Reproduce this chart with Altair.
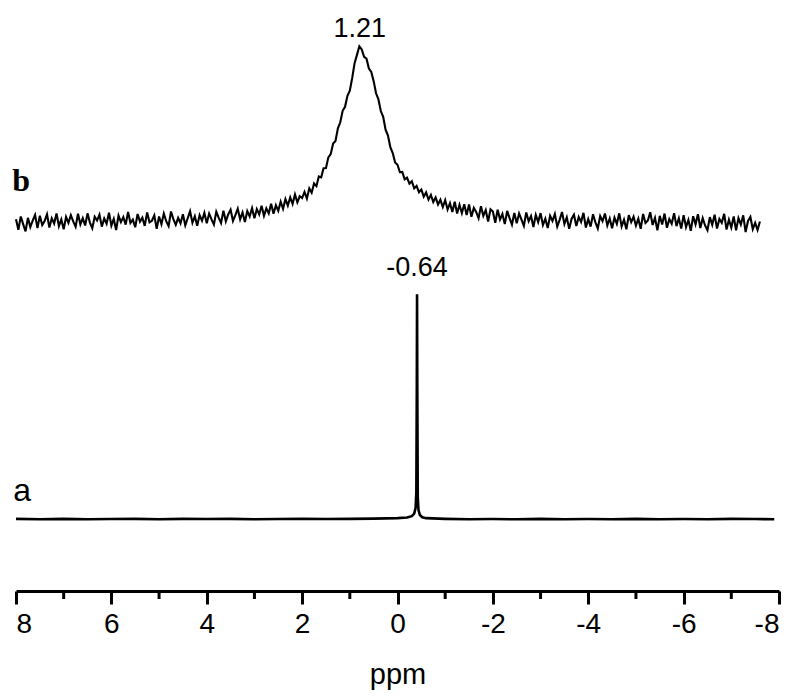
import altair as alt
import numpy as np
import pandas as pd

# ---- trace b : broad peak, sampled every 0.05 ppm from 8.00 ppm downward ----
B_START = 8.0
B_STEP = 0.05
B_INTENSITY = [
    0.4, -4.3, 1.6, -1.8, -5.0, 1.0, -3.1, -0.2, 2.3, -3.6,
    1.9, -2.2, -0.4, 2.6, -3.3, 0.8, -1.5, 2.9, -2.7, 0.3,
    -4.1, 1.4, -1.2, 2.2, -0.6, -3.0, 2.8, -1.9, 0.9, -2.4,
    3.0, -1.1, -3.6, 1.5, -0.2, 2.4, -2.9, 0.7, -1.6, 3.3,
    -2.5, 0.5, -4.4, 2.0, -0.9, 1.3, -2.0, 3.6, -1.3, 0.2,
    -3.2, 2.7, -0.7, 1.1, -2.6, 3.4, -1.0, -0.3, 2.1, -3.9,
    1.6, -1.8, 2.9, -0.5, -2.7, 3.8, 0.4, -2.1, 1.0, -1.4,
    2.6, -2.3, 0.8, 3.9, -1.2, 1.7, -2.5, 2.2, -0.3, 3.2,
    -1.4, 2.9, 0.3, -2.0, 3.7, 1.1, -1.3, 4.2, -0.6, 2.5,
    4.6, -0.4, 2.2, 5.1, 0.3, 3.4, -0.9, 4.0, 1.6, 5.3,
    0.8, 4.9, 2.5, 6.4, 1.9, 5.2, 3.0, 7.3, 2.8, 6.6,
    4.1, 8.2, 5.0, 9.3, 6.4, 10.1, 7.2, 11.4, 7.9, 10.6,
    9.8, 12.5, 9.6, 14.1, 12.2, 16.3, 15.1, 19.4, 19.0, 23.1,
    23.2, 27.9, 29.4, 34.1, 35.2, 40.8, 43.5, 48.6, 50.4, 55.3,
    57.6, 63.2, 69.8, 73.5, 77.3, 75.9, 72.6, 71.8, 67.4, 65.9,
    61.8, 56.4, 53.7, 48.5, 45.9, 40.2, 37.6, 32.4, 29.8, 25.6,
    24.6, 21.3, 21.4, 18.1, 18.9, 16.2, 17.3, 14.1, 15.2, 12.4,
    13.6, 10.4, 12.3, 9.1, 11.2, 8.0, 10.1, 6.9, 9.0, 5.8,
    8.9, 4.7, 7.5, 3.6, 8.2, 2.9, 6.8, 3.1, 7.0, 2.2,
    6.9, 1.5, 5.4, 3.6, 0.8, 6.2, 1.9, 4.5, -0.6, 4.8,
    3.8, -1.2, 4.6, 0.3, 2.7, -1.8, 4.1, 0.9, -2.0, 3.2,
    -1.4, 2.9, 0.2, -2.6, 3.4, -0.5, 1.8, -3.1, 2.3, -0.9,
    3.1, -2.2, 0.6, -3.5, 1.9, -0.4, 2.7, -2.9, 0.1, 3.6,
    -1.8, 1.2, -3.9, 0.5, 2.4, -2.6, 1.4, -0.8, 3.2, -3.3,
    0.4, -2.9, 2.6, -1.0, -3.7, 1.8, -0.5, 2.9, -2.4, 0.7,
    -3.6, 1.1, -1.7, 3.0, -2.8, 0.2, -4.1, 2.2, -0.9, 1.5,
    -2.5, 0.6, -3.9, 2.7, -1.3, -0.2, 3.5, -2.2, 1.0, -4.6,
    1.9, -2.0, 2.9, -3.4, 0.4, -1.6, 3.1, -2.7, 0.8, -3.8,
    2.2, -3.1, 0.1, -4.8, 1.7, -1.9, 2.6, -3.5, 0.9, -2.4,
    -4.5, 1.3, -2.1, 2.4, -3.8, 0.5, -1.2, 2.8, -4.2, 0.2,
    -3.3, 1.6, -4.6, 0.9, -2.0, 2.1, -5.3, -0.4, 1.4, -4.0,
    -1.2, -4.4, -0.6,
]
B_OFFSET = 133.0  # vertical stacking offset of spectrum b

# ---- trace a : sharp line ----
A_PPM = [8.0, 7.5, 7.0, 6.5, 6.0, 5.5, 5.0, 4.5, 4.0, 3.5,
         3.0, 2.5, 2.0, 1.5, 1.0, 0.5, 0.0, -0.2, -0.3, -0.35,
         -0.38, -0.395, -0.405, -0.41, -0.415, -0.425, -0.44, -0.47, -0.52, -0.6,
         -1.0, -1.5, -2.0, -2.5, -3.0, -3.5, -4.0, -4.5, -5.0, -5.5,
         -6.0, -6.5, -7.0, -7.5, -7.9]
A_INTENSITY = [0.1, -0.1, 0.1, -0.1, 0.0, 0.1, -0.1, 0.1, 0.0, 0.1,
               -0.1, 0.0, 0.1, 0.0, 0.1, 0.2, 0.4, 0.7, 1.3, 2.4,
               5.0, 12.0, 60.0, 100.0, 60.0, 10.0, 4.0, 1.8, 0.8, 0.4,
               0.1, -0.1, 0.0, -0.1, 0.1, -0.1, 0.0, -0.1, 0.1, -0.1,
               0.0, -0.1, 0.1, 0.0, -0.1]

TICK_MAJOR = [8, 6, 4, 2, 0, -2, -4, -6, -8]
TICK_MINOR = [7, 5, 3, 1, -1, -3, -5, -7]

PEAK_LABELS = ["1.21", "-0.64"]
PEAK_LABEL_PPM = [0.79, -0.41]
PEAK_LABEL_Y = [218.2, 111.7]

TRACE_LABELS = ["b", "a"]
TRACE_LABEL_PPM = [7.89, 7.87]
TRACE_LABEL_Y = [150.4, 12.7]

W, H = 763, 562

ppm_b = np.round(B_START - B_STEP * np.arange(len(B_INTENSITY)), 3)
df_b = pd.DataFrame({"ppm": ppm_b, "y": np.array(B_INTENSITY) + B_OFFSET})
df_a = pd.DataFrame({"ppm": A_PPM, "y": A_INTENSITY})
df_minor = pd.DataFrame({"ppm": TICK_MINOR})
df_peak = pd.DataFrame({"t": PEAK_LABELS, "ppm": PEAK_LABEL_PPM, "y": PEAK_LABEL_Y})
df_b_lab = pd.DataFrame({"t": TRACE_LABELS[:1], "ppm": TRACE_LABEL_PPM[:1], "y": TRACE_LABEL_Y[:1]})
df_a_lab = pd.DataFrame({"t": TRACE_LABELS[1:], "ppm": TRACE_LABEL_PPM[1:], "y": TRACE_LABEL_Y[1:]})

xscale = alt.Scale(domain=[8, -8], nice=False, zero=False)
yscale = alt.Scale(domain=[-32, 218], nice=False, zero=False)

xaxis = alt.Axis(
    values=TICK_MAJOR, title="ppm", grid=False,
    labelExpr="'' + datum.value",
    domainColor="black", domainWidth=3,
    tickColor="black", tickWidth=3, tickSize=13,
    labelFont="Liberation Sans", labelFontSize=28, labelColor="black",
    labelPadding=6,
    titleFont="Liberation Sans", titleFontSize=29, titleFontWeight="normal",
    titleColor="black", titlePadding=22,
)

X = alt.X("ppm:Q", scale=xscale, axis=xaxis)
Xn = alt.X("ppm:Q", scale=xscale)
Y = alt.Y("y:Q", scale=yscale, axis=None)

line_b = alt.Chart(df_b).mark_line(color="black", strokeWidth=2.1).encode(x=X, y=Y)
line_a = alt.Chart(df_a).mark_line(color="black", strokeWidth=2.6).encode(x=Xn, y=Y)

minor = alt.Chart(df_minor).mark_rule(color="black", strokeWidth=3).encode(
    x=Xn, y=alt.value(H), y2=alt.value(H + 8)
)

peak_text = alt.Chart(df_peak).mark_text(
    font="Liberation Sans", fontSize=27, color="black", align="center", baseline="middle"
).encode(x=Xn, y=Y, text="t:N")

b_text = alt.Chart(df_b_lab).mark_text(
    font="Liberation Serif", fontSize=32, fontWeight="bold", color="black",
    align="center", baseline="middle"
).encode(x=Xn, y=Y, text="t:N")

a_text = alt.Chart(df_a_lab).mark_text(
    font="Liberation Sans", fontSize=32, color="black", align="center", baseline="middle"
).encode(x=Xn, y=Y, text="t:N")

chart = alt.layer(line_b, line_a, minor, peak_text, b_text, a_text).properties(
    width=W, height=H,
    autosize=alt.AutoSizeParams(type="none"),
    padding={"left": 8, "right": 12, "top": 21, "bottom": 99},
).configure_view(stroke=None)

chart.save("out.html", embed_options={"renderer": "svg", "actions": False})
